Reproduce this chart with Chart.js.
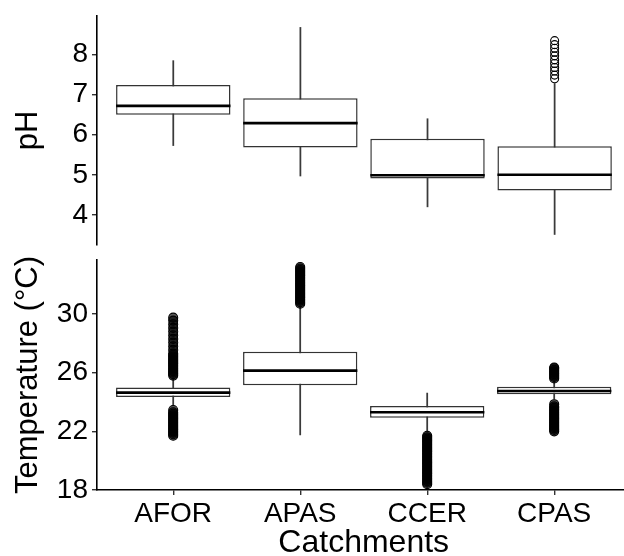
<!DOCTYPE html>
<html>
<head>
<meta charset="utf-8">
<script src="https://cdn.jsdelivr.net/npm/chart.js@4"></script>
<style>
html, body { margin: 0; padding: 0; background: #fff; }
#wrap { position: relative; width: 624px; height: 556px; overflow: hidden; }
#wrap canvas { position: absolute; left: 0; }
</style>
</head>
<body>
<div id="wrap">
  <canvas id="phChart" width="636" height="250" style="top:0"></canvas>
  <canvas id="tempChart" width="636" height="306" style="top:250px"></canvas>
</div>
<script>
// categories on the x axis
const categories = ["AFOR", "APAS", "CCER", "CPAS"];
const xPositions = [1, 2, 3, 4];

// pH box stats (whisker low, q1, median, q3, whisker high)
const phLow = [5.73, 4.97, 4.20, 3.51];
const phQ1 = [6.50, 5.68, 4.91, 4.61];
const phMed = [6.72, 6.29, 4.99, 5.00];
const phQ3 = [7.24, 6.91, 5.90, 5.71];
const phHigh = [7.85, 8.68, 6.40, 7.28];
const phOutliers = [
    [],
    [],
    [],
    [7.40, 7.49, 7.59, 7.68, 7.78, 7.87, 7.97, 8.06, 8.16, 8.25, 8.35]
];
const phTicks = [4, 5, 6, 7, 8];

// temperature box stats
const tLow = [23.75, 21.75, 22.0, 24.2];
const tQ1 = [24.34, 25.14, 22.93, 24.53];
const tMed = [24.64, 26.14, 23.30, 24.75];
const tQ3 = [24.98, 27.43, 23.73, 25.04];
const tHigh = [25.55, 30.5, 24.6, 25.35];
const tOutliers = [
    [25.8, 25.9, 26.0, 26.1, 26.2, 26.3, 26.4, 26.5, 26.6, 26.7, 26.8, 26.9, 27.0, 27.1, 27.2, 27.3,
     27.55, 27.8, 28.05, 28.3, 28.55, 28.8, 29.05, 29.3, 29.55, 29.75,
     23.45, 23.3, 23.2, 23.1, 23.0, 22.9, 22.8, 22.7, 22.6, 22.5, 22.4, 22.3, 22.2, 22.1, 22.0, 21.9, 21.8, 21.7],
    [30.7, 30.8, 30.9, 31.0, 31.1, 31.2, 31.3, 31.4, 31.5, 31.6, 31.7, 31.8, 31.9, 32.0, 32.1, 32.2, 32.3,
     32.4, 32.5, 32.6, 32.7, 32.8, 32.9, 33.0, 33.1, 33.2],
    [21.7, 21.6, 21.5, 21.4, 21.3, 21.2, 21.1, 21.0, 20.9, 20.8, 20.7, 20.6, 20.5, 20.4, 20.3, 20.2, 20.1,
     20.0, 19.9, 19.8, 19.7, 19.6, 19.5, 19.4, 19.3, 19.2, 19.1, 19.0, 18.9, 18.8, 18.7, 18.6, 18.5, 18.4],
    [25.6, 25.7, 25.8, 25.9, 26.0, 26.1, 26.2, 26.3, 26.35,
     23.85, 23.7, 23.6, 23.5, 23.4, 23.3, 23.2, 23.1, 23.0, 22.9, 22.8, 22.7, 22.6, 22.5, 22.4, 22.3, 22.2, 22.1, 22.0]
];
const tTicks = [18, 22, 26, 30];

const FONT = "'Liberation Sans', Arial, Helvetica, sans-serif";

// median lines drawn across each box
const medianLines = {
    id: "medianLines",
    afterDatasetsDraw(chart, args, opts) {
        const meta = chart.getDatasetMeta(1);
        const y = chart.scales.y;
        const ctx = chart.ctx;
        ctx.save();
        ctx.strokeStyle = "#000";
        ctx.lineWidth = 2.6;
        meta.data.forEach((bar, i) => {
            const py = y.getPixelForValue(opts.values[i]);
            ctx.beginPath();
            ctx.moveTo(bar.x - bar.width / 2, py);
            ctx.lineTo(bar.x + bar.width / 2, py);
            ctx.stroke();
        });
        ctx.restore();
    }
};

function buildDatasets(low, q1, q3, high, outliers, radius, fill) {
    const pts = [];
    outliers.forEach((list, i) => list.forEach(v => pts.push({ x: xPositions[i], y: v })));
    return [
        {
            type: "bar",
            data: xPositions.map((x, i) => ({ x: x, y: [low[i], high[i]] })),
            backgroundColor: "#3a3a3a",
            borderWidth: 0,
            barThickness: 1.1,
            grouped: false,
            order: 3
        },
        {
            type: "bar",
            data: xPositions.map((x, i) => ({ x: x, y: [q1[i], q3[i]] })),
            backgroundColor: "#fff",
            borderColor: "#333",
            borderWidth: 1.5,
            borderSkipped: false,
            grouped: false,
            barPercentage: 0.9,
            categoryPercentage: 1,
            order: 2
        },
        {
            type: "scatter",
            data: pts,
            pointRadius: radius,
            pointBorderWidth: 1.1,
            pointBorderColor: "#000",
            pointBackgroundColor: fill,
            order: 1
        }
    ];
}

function yScale(min, max, ticks, title) {
    return {
        type: "linear",
        min: min,
        max: max,
        beginAtZero: false,
        afterBuildTicks: s => { s.ticks = ticks.map(v => ({ value: v })); },
        afterFit: s => { s.width = 97; s.paddingTop = 0; s.paddingBottom = 0; },
        grid: { drawOnChartArea: false, drawTicks: true, tickLength: 5, color: "#333", lineWidth: 1.4 },
        border: { display: true, color: "#000", width: 1.6 },
        ticks: { color: "#000", font: { family: FONT, size: 28 }, padding: 4 },
        title: {
            display: true, text: title, color: "#000",
            font: { family: FONT, size: 31, lineHeight: 1.2 },
            padding: { top: 10, bottom: 0 }
        }
    };
}

// top panel: pH
new Chart(document.getElementById("phChart"), {
    type: "bar",
    data: { datasets: buildDatasets(phLow, phQ1, phQ3, phHigh, phOutliers, 4, "rgba(255,255,255,0)") },
    options: {
        responsive: false,
        animation: false,
        layout: { padding: { top: 16, bottom: 3, left: 0, right: 0 } },
        plugins: { legend: { display: false }, tooltip: { enabled: false }, medianLines: { values: phMed } },
        scales: {
            x: {
                type: "linear", min: 0.4, max: 4.6, offset: false,
                afterBuildTicks: s => { s.ticks = xPositions.map(v => ({ value: v })); },
                afterFit: s => { s.height = 0; s.paddingLeft = 0; s.paddingRight = 0; },
                ticks: { display: false },
                grid: { display: false, offset: false },
                border: { display: false }
            },
            y: yScale(3.25, 8.965, phTicks, "pH")
        }
    },
    plugins: [medianLines]
});

// bottom panel: temperature
new Chart(document.getElementById("tempChart"), {
    type: "bar",
    data: { datasets: buildDatasets(tLow, tQ1, tQ3, tHigh, tOutliers, 4.5, "rgba(0,0,0,0.65)") },
    options: {
        responsive: false,
        animation: false,
        layout: { padding: { top: 10, bottom: 0, left: 0, right: 0 } },
        plugins: { legend: { display: false }, tooltip: { enabled: false }, medianLines: { values: tMed } },
        scales: {
            x: {
                type: "linear", min: 0.4, max: 4.6, offset: false,
                afterBuildTicks: s => { s.ticks = xPositions.map(v => ({ value: v })); },
                afterFit: s => { s.height = 66; s.paddingLeft = 0; s.paddingRight = 0; },
                ticks: {
                    callback: (v, i) => categories[i],
                    color: "#000", font: { family: FONT, size: 28 }, padding: 2,
                    maxRotation: 0, autoSkip: false
                },
                grid: { drawOnChartArea: false, drawTicks: true, tickLength: 5, color: "#333", lineWidth: 1.4, offset: false },
                border: { display: true, color: "#000", width: 1.6 },
                title: {
                    display: true, text: "Catchments", color: "#000",
                    font: { family: FONT, size: 32, lineHeight: 1 },
                    padding: { top: 0, bottom: -3 }
                }
            },
            y: yScale(18, 33.68, tTicks, "Temperature (°C)")
        }
    },
    plugins: [medianLines]
});
</script>
</body>
</html>
